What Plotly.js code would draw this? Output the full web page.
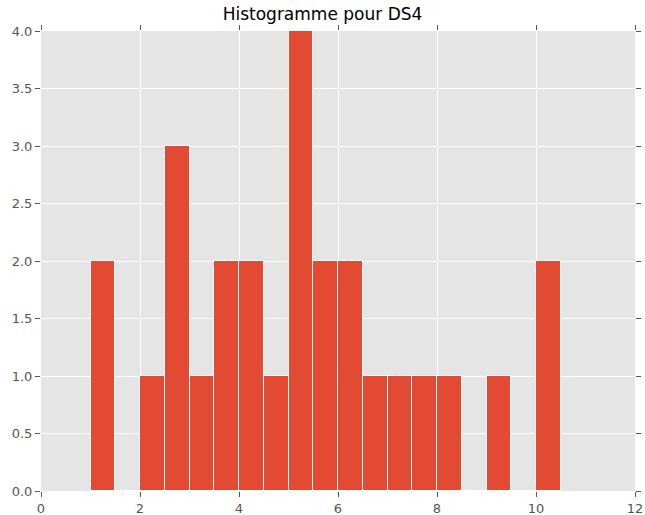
<!DOCTYPE html>
<html><head><meta charset="utf-8">
<script src="https://cdn.plot.ly/plotly-3.0.1.min.js"></script>
<style>body{margin:0;}#chart{width:645px;height:515px;}</style>
</head><body><div id="chart"></div>
<script>
const binStarts = [1,1.5,2,2.5,3,3.5,4,4.5,5,5.5,6,6.5,7,7.5,8,8.5,9,9.5,10];
const counts =    [2,0,1,3,1,2,2,1,4,2,2,1,1,1,1,0,1,0,2];
const binWidth = 0.5;
const xTicks = [0,2,4,6,8,10,12];
const yTicks = [0,0.5,1,1.5,2,2.5,3,3.5,4];

const trace = {
  type: 'bar',
  x: binStarts.map(s => s + binWidth/2),
  y: counts,
  width: binWidth,
  marker: {color: '#E24A33', line: {color: '#ffffff', width: 1}},
  hoverinfo: 'x+y'
};
const axisCommon = {
  showline: false, zeroline: false, gridcolor: '#ffffff', gridwidth: 1,
  ticks: 'outside', ticklen: 5, tickcolor: '#555555', mirror: 'ticks',
  tickfont: {family: 'DejaVu Sans', size: 13, color: '#555555'}
};
const layout = {
  width: 645, height: 515,
  margin: {l: 41, r: 10, t: 31, b: 24},
  paper_bgcolor: '#ffffff', plot_bgcolor: '#E5E5E5',
  title: {text: 'Histogramme pour DS4', font: {family: 'DejaVu Sans', size: 17, color: '#000000'}, x: 0.5, xanchor: 'center', y: 0.985, yanchor: 'top'},
  xaxis: Object.assign({}, axisCommon, {range: [0, 12], tickvals: xTicks, ticktext: xTicks.map(String)}),
  yaxis: Object.assign({}, axisCommon, {range: [0, 4], tickvals: yTicks, ticktext: yTicks.map(v => v.toFixed(1))}),
  bargap: 0, showlegend: false
};
Plotly.newPlot('chart', [trace], layout, {displayModeBar: false});
</script></body></html>
